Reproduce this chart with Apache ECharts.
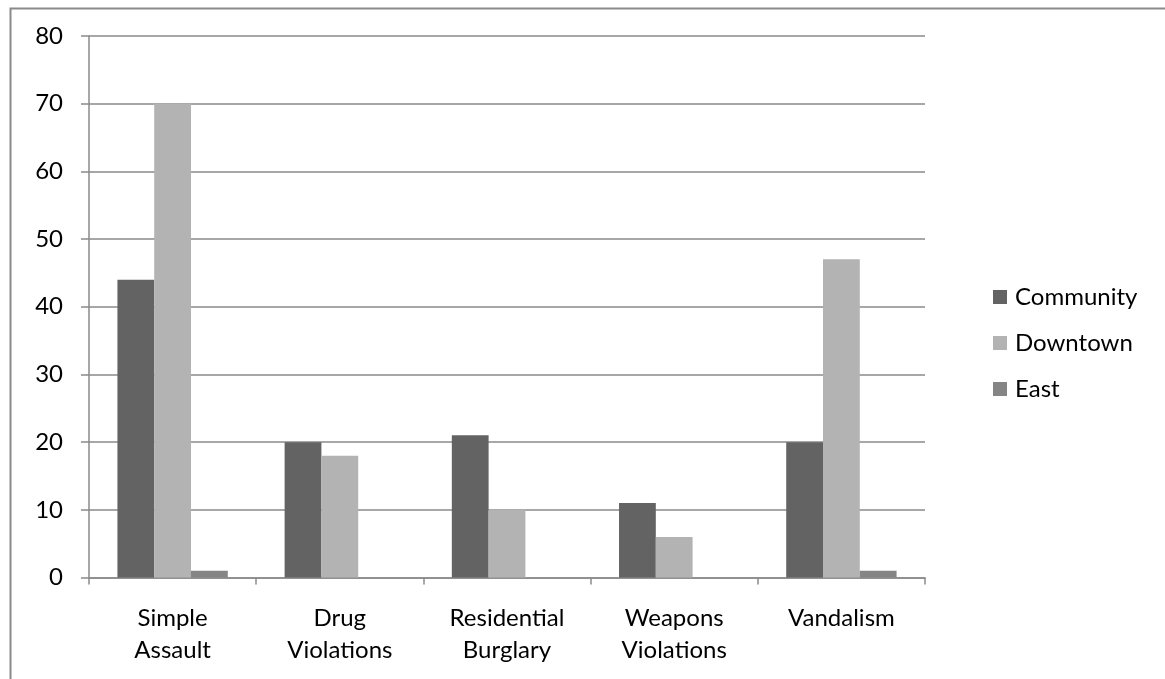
<!DOCTYPE html>
<html>
<head>
<meta charset="utf-8">
<script src="https://cdn.jsdelivr.net/npm/echarts@6/dist/echarts.min.js"></script>
<style>
  html, body { margin: 0; padding: 0; background: #fff; }
  #chart { width: 1165px; height: 679px; }
</style>
</head>
<body>
<div id="chart"></div>
<script>
// Offence categories (two-line labels)
const categories = ['Simple\nAssault', 'Drug\nViolations', 'Residential\nBurglary', 'Weapons\nViolations', 'Vandalism'];

// Counts per precinct
const community = [44, 20, 21, 11, 20];
const downtown  = [70, 18, 10, 6, 47];
const east      = [1, 0, 0, 0, 1];

// Value axis range
const yMin = 0;
const yMax = 80;
const yStep = 10;

const FONT = 'Lato';
const FONT_SIZE = 24;
const GRAY = '#8a8a8a';

const chart = echarts.init(document.getElementById('chart'), null, { renderer: 'canvas' });

chart.setOption({
  animation: false,
  backgroundColor: '#ffffff',
  textStyle: { fontFamily: FONT, color: '#000' },
  graphic: [{
    type: 'rect',
    left: 8, top: 6,
    shape: { x: 0, y: 0, width: 1200, height: 720 },
    style: { fill: 'none', stroke: GRAY, lineWidth: 2 },
    silent: true
  }],
  grid: { left: 89, right: 240, top: 36, bottom: 101.5, containLabel: false },
  legend: {
    orient: 'vertical',
    left: 988,
    top: 279,
    itemWidth: 14,
    itemHeight: 14,
    itemGap: 20,
    icon: 'rect',
    textStyle: { fontFamily: FONT, fontSize: FONT_SIZE, color: '#000', padding: [0, 0, 0, 3], lineHeight: 26 },
    data: ['Community', 'Downtown', 'East']
  },
  xAxis: {
    type: 'category',
    data: categories,
    axisLine: { show: true, lineStyle: { color: GRAY, width: 1.5 } },
    axisTick: { show: true, length: 7, lineStyle: { color: GRAY, width: 1.5 } },
    axisLabel: { fontFamily: FONT, fontSize: FONT_SIZE, color: '#000', lineHeight: 32, margin: 25, interval: 0 },
    splitLine: { show: false }
  },
  yAxis: {
    type: 'value',
    min: yMin, max: yMax, interval: yStep,
    axisLine: { show: true, lineStyle: { color: GRAY, width: 1.5 } },
    axisTick: { show: true, length: 8, lineStyle: { color: GRAY, width: 1.5 } },
    axisLabel: { fontFamily: FONT, fontSize: FONT_SIZE, color: '#000', margin: 26 },
    splitLine: { show: true, lineStyle: { color: GRAY, width: 1.5 } }
  },
  series: [
    { name: 'Community', type: 'bar', data: community, barGap: '0%', barCategoryGap: '34%',
      itemStyle: { color: '#636363' } },
    { name: 'Downtown', type: 'bar', data: downtown, barGap: '0%', barCategoryGap: '34%',
      itemStyle: { color: '#b3b3b3' } },
    { name: 'East', type: 'bar', data: east, barGap: '0%', barCategoryGap: '34%',
      itemStyle: { color: '#858585' } }
  ]
});
</script>
</body>
</html>
